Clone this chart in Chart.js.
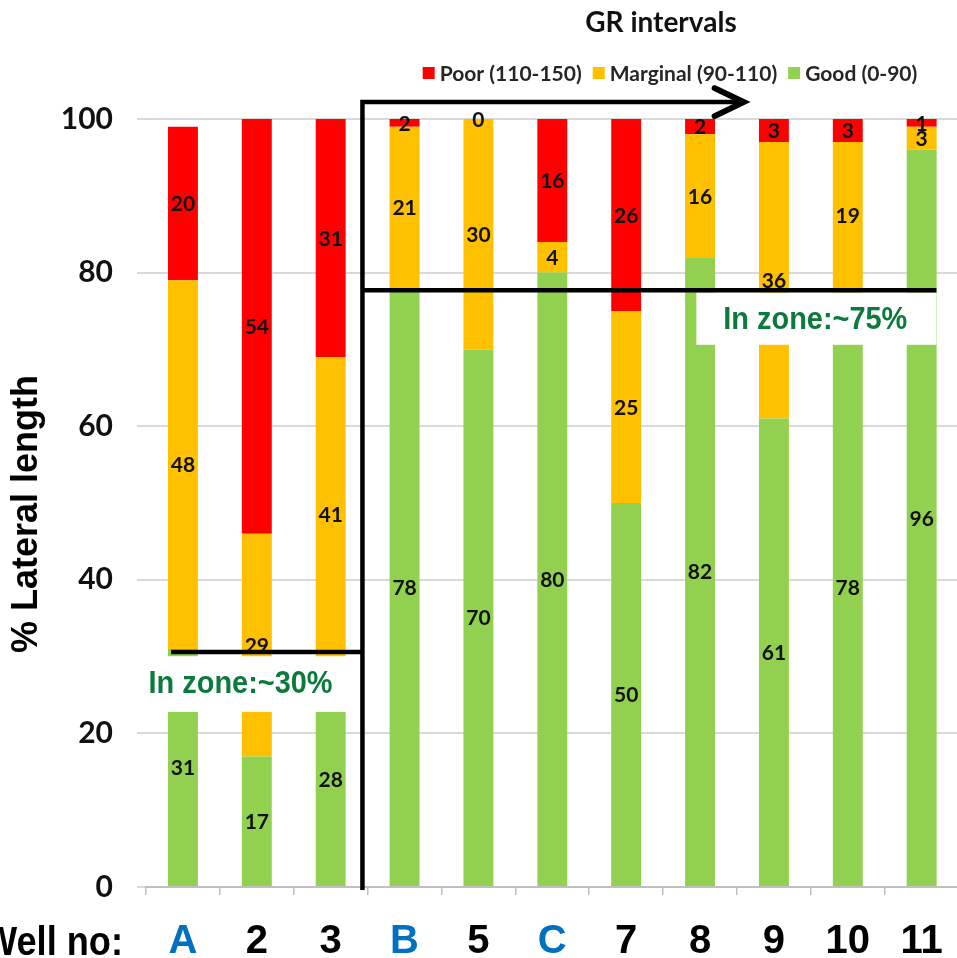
<!DOCTYPE html>
<html>
<head>
<meta charset="utf-8">
<script src="https://cdn.jsdelivr.net/npm/chart.js@4.4.1/dist/chart.umd.min.js"></script>
<style>
  html, body { margin: 0; padding: 0; overflow: hidden; background: #fff; }
  canvas { display: block; }
</style>
</head>
<body>
<canvas id="chart" width="966" height="958"></canvas>
<script>
// Wells and the share of each lateral (%) falling in each GR interval
const wells = ['A', '2', '3', 'B', '5', 'C', '7', '8', '9', '10', '11'];
const blueWells = ['A', 'B', 'C'];
const good = [31, 17, 28, 78, 70, 80, 50, 82, 61, 78, 96];
const marginal = [48, 29, 41, 21, 30, 4, 25, 16, 36, 19, 3];
const poor = [20, 54, 31, 2, 0, 16, 26, 2, 3, 3, 1];
const seriesNames = ['Good (0-90)', 'Marginal (90-110)', 'Poor (110-150)'];
const seriesColors = ['#92D050', '#FFC000', '#FF0000'];
const yTicks = [0, 20, 40, 60, 80, 100];

// Annotation anchors, in axis units (category index / percent)
const divider = { x: 2.43, top: 102.2, bottom: -0.4 };
const arrowTip = 7.59;
const zoneHigh = { y: 77.7, to: 10.2, box: [6.95, 10.2, 77.4, 70.6], label: 'In zone:~75%', at: [8.56, 73.8] };
const zoneLow = { y: 30.6, from: -0.16, box: [-0.58, 2.37, 30.05, 22.8], label: 'In zone:~30%', at: [0.78, 26.4] };

const LABEL_FONT = 'bold 21px Lato, "Liberation Sans", Arial, sans-serif';

const segmentLabels = {
  id: 'segmentLabels',
  afterDatasetsDraw(chart) {
    const ctx = chart.ctx;
    const area = chart.chartArea;
    ctx.save();
    ctx.font = LABEL_FONT;
    ctx.fillStyle = '#111';
    ctx.textAlign = 'center';
    ctx.textBaseline = 'middle';
    chart.data.datasets.forEach((ds, di) => {
      const meta = chart.getDatasetMeta(di);
      meta.data.forEach((bar, i) => {
        const p = bar.getProps(['x', 'y', 'base'], true);
        const top = Math.max(Math.min(p.y, p.base), area.top);
        const bottom = Math.max(p.y, p.base);
        ctx.fillText(String(ds.data[i]), p.x, (top + bottom) / 2 + 1);
      });
    });
    ctx.restore();
  }
};

const decorations = {
  id: 'decorations',
  afterDraw(chart) {
    const ctx = chart.ctx;
    const xs = chart.scales.x, ys = chart.scales.y;
    const X = v => xs.getPixelForValue(v);
    const Y = v => ys.getPixelForValue(v);
    ctx.save();

    // Title and legend
    ctx.fillStyle = '#111';
    ctx.textBaseline = 'middle';
    ctx.textAlign = 'center';
    ctx.font = 'bold 28px Lato, "Liberation Sans", Arial, sans-serif';
    ctx.fillText('GR intervals', 661, 23);

    ctx.font = 'bold 21px Lato, "Liberation Sans", Arial, sans-serif';
    ctx.textAlign = 'left';
    const order = [2, 1, 0];
    const box = 12, gapIn = 5, gapOut = 11;
    let total = 0;
    order.forEach((k, n) => {
      total += box + gapIn + ctx.measureText(seriesNames[k]).width + (n < order.length - 1 ? gapOut : 0);
    });
    let lx = 670 - total / 2;
    order.forEach(k => {
      ctx.fillStyle = seriesColors[k];
      ctx.fillRect(lx, 67, box, box);
      lx += box + gapIn;
      ctx.fillStyle = '#262626';
      ctx.fillText(seriesNames[k], lx, 74);
      lx += ctx.measureText(seriesNames[k]).width + gapOut;
    });

    // Y axis title
    ctx.save();
    ctx.translate(27, 514);
    ctx.rotate(-Math.PI / 2);
    ctx.fillStyle = '#000';
    ctx.textAlign = 'center';
    ctx.font = 'bold 36px "Liberation Sans", Arial, sans-serif';
    ctx.fillText('% Lateral length', 0, 0, 305);
    ctx.restore();

    // X axis caption
    ctx.fillStyle = '#000';
    ctx.textAlign = 'right';
    ctx.textBaseline = 'alphabetic';
    ctx.font = 'bold 40px "Liberation Sans", Arial, sans-serif';
    ctx.fillText('Well no:', 123, 955, 140);

    // Zone boxes
    ctx.fillStyle = '#fff';
    [zoneHigh, zoneLow].forEach(z => {
      const [x0, x1, y0, y1] = z.box;
      ctx.fillRect(X(x0), Y(y0), X(x1) - X(x0), Y(y1) - Y(y0));
    });

    // Lines and arrow
    ctx.strokeStyle = '#000';
    ctx.lineWidth = 4.5;
    ctx.lineCap = 'butt';
    ctx.beginPath();
    ctx.moveTo(X(divider.x), Y(divider.bottom));
    ctx.lineTo(X(divider.x), Y(divider.top));
    ctx.lineTo(X(arrowTip) - 2, Y(divider.top));
    ctx.moveTo(X(divider.x), Y(zoneHigh.y));
    ctx.lineTo(X(zoneHigh.to), Y(zoneHigh.y));
    ctx.moveTo(X(zoneLow.from), Y(zoneLow.y));
    ctx.lineTo(X(divider.x), Y(zoneLow.y));
    ctx.stroke();

    ctx.lineWidth = 6;
    ctx.lineCap = 'round';
    ctx.lineJoin = 'miter';
    const tx = X(arrowTip), ty = Y(divider.top);
    ctx.beginPath();
    ctx.moveTo(tx - 29, ty - 14);
    ctx.lineTo(tx, ty);
    ctx.lineTo(tx - 29, ty + 14);
    ctx.stroke();

    // Zone texts
    ctx.fillStyle = '#0B7A3B';
    ctx.textAlign = 'center';
    ctx.textBaseline = 'middle';
    ctx.font = 'bold 31px "Liberation Sans", Arial, sans-serif';
    [zoneHigh, zoneLow].forEach(z => {
      ctx.fillText(z.label, X(z.at[0]), Y(z.at[1]), 184);
    });

    ctx.restore();
  }
};

new Chart(document.getElementById('chart'), {
  type: 'bar',
  data: {
    labels: wells,
    datasets: [good, marginal, poor].map((d, k) => ({
      label: seriesNames[k],
      data: d,
      backgroundColor: seriesColors[k],
      borderWidth: 0,
      clip: 0
    }))
  },
  options: {
    responsive: false,
    animation: false,
    devicePixelRatio: 1,
    categoryPercentage: 1,
    barPercentage: 0.405,
    layout: { padding: { top: 119, right: 4, left: 0, bottom: 0 } },
    plugins: {
      legend: { display: false },
      title: { display: false },
      tooltip: { enabled: false }
    },
    scales: {
      x: {
        stacked: true,
        offset: true,
        grid: {
          offset: true,
          drawOnChartArea: false,
          drawTicks: true,
          tickLength: 8,
          color: '#bfbfbf',
          lineWidth: 1.5
        },
        border: { display: true, color: '#bfbfbf', width: 2 },
        ticks: {
          padding: 23,
          autoSkip: false,
          maxRotation: 0,
          font: { family: '"Liberation Sans", Arial, sans-serif', size: 40, weight: 'bold' },
          color: c => blueWells.includes(wells[c.index]) ? '#0070C0' : '#000'
        },
        afterFit: s => { s.height = 71; }
      },
      y: {
        stacked: true,
        min: 0,
        max: 100,
        afterBuildTicks: s => { s.ticks = yTicks.map(v => ({ value: v })); },
        grid: { color: '#d9d9d9', lineWidth: 2, drawTicks: true, tickLength: 9 },
        border: { display: false },
        ticks: {
          padding: 24,
          color: '#111',
          font: { family: 'Lato, "Liberation Sans", Arial, sans-serif', size: 30, weight: 'bold' }
        },
        afterFit: s => { s.width = 146; }
      }
    }
  },
  plugins: [segmentLabels, decorations]
});
</script>
</body>
</html>
